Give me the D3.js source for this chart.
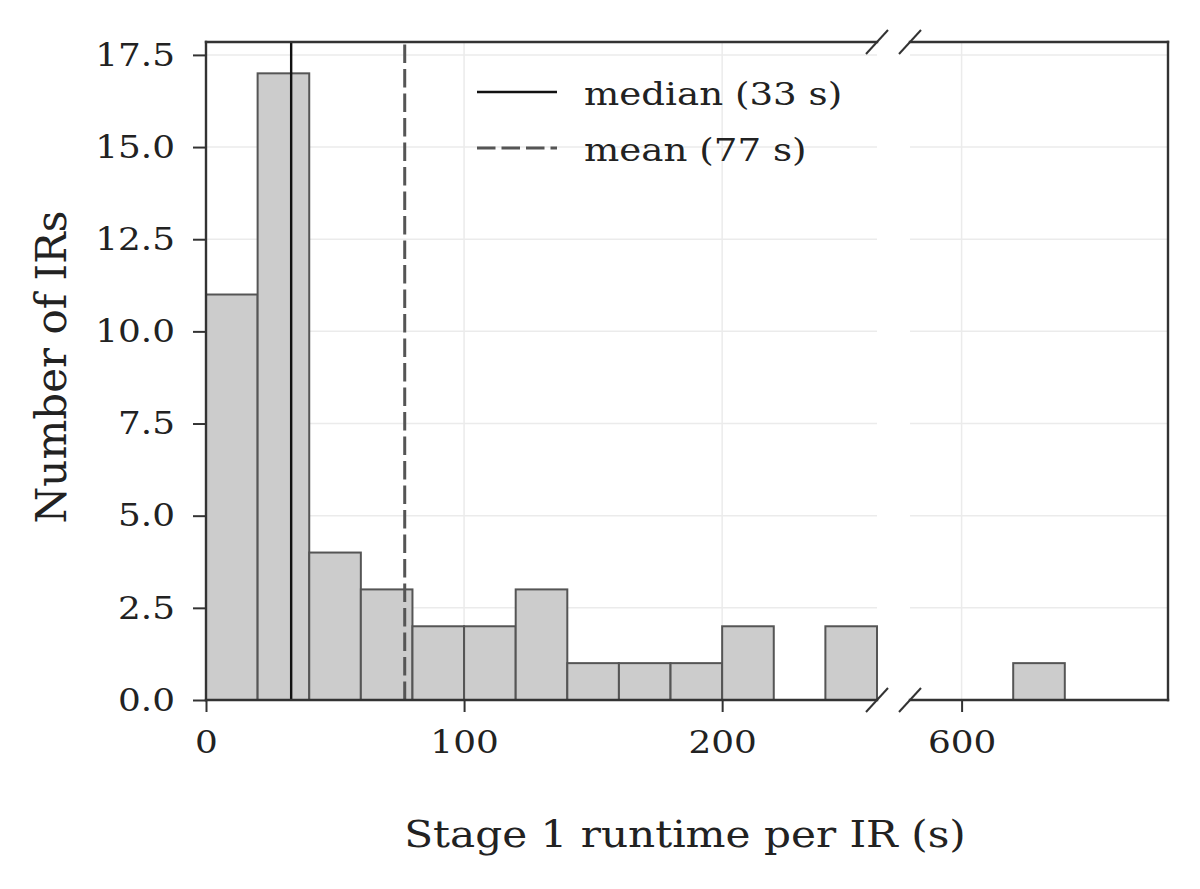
<!DOCTYPE html>
<html>
<head>
<meta charset="utf-8">
<script src="https://cdn.jsdelivr.net/npm/d3@7"></script>
<style>
  body { margin: 0; background: #fff; }
  text { font-family: "DejaVu Serif", serif; fill: #222; }
</style>
</head>
<body>
<div id="chart"></div>
<script>
// histogram data (bins of 20 s)
const binWidth = 20
const leftBinStarts = [0, 20, 40, 60, 80, 100, 120, 140, 160, 180, 200, 220, 240]
const leftCounts = [11, 17, 4, 3, 2, 2, 3, 1, 1, 1, 2, 0, 2]
const rightBinStarts = [580, 600, 620, 640, 660]
const rightCounts = [0, 0, 1, 0, 0]

const yTicks = [0, 2.5, 5, 7.5, 10, 12.5, 15, 17.5]
const leftXTicks = [0, 100, 200]
const rightXTicks = [600]

const medianValue = 33
const meanValue = 77
const legendLabels = ['median (33 s)', 'mean (77 s)']

const width = 1200
const height = 889

// the glyphs in the picture are a bit wider than DejaVu Serif
const stretch = 1.12

const svg = d3.select('#chart').append('svg')
   .attr('width', width)
   .attr('height', height)

// scales: two x panels sharing one y
let yScale = d3.scaleLinear().domain([0, 17.85]).range([700, 42])
let xLeft = d3.scaleLinear().domain([0, 260]).range([206, 877])
let xRight = d3.scaleLinear().domain([580, 680]).range([910, 1168])

const gridColor = '#ebebeb'
const spineColor = '#333'
const meanColor = '#555'
const meanDash = '18.5,6'

// grid lines
function drawGrid(xs, ticks) {
   let g = svg.append('g')
   g.selectAll('.hgrid').data(yTicks).enter().append('line')
      .attr('x1', xs.range()[0]).attr('x2', xs.range()[1])
      .attr('y1', d => yScale(d)).attr('y2', d => yScale(d))
      .attr('stroke', gridColor).attr('stroke-width', 1.5)
   g.selectAll('.vgrid').data(ticks).enter().append('line')
      .attr('x1', d => xs(d)).attr('x2', d => xs(d))
      .attr('y1', yScale.range()[0]).attr('y2', yScale.range()[1])
      .attr('stroke', gridColor).attr('stroke-width', 1.5)
}
drawGrid(xLeft, leftXTicks)
drawGrid(xRight, rightXTicks)

// bars
function drawBars(xs, starts, counts) {
   svg.append('g').selectAll('rect')
         .data(starts.map((s, i) => ({ start: s, count: counts[i] })))
      .enter().append('rect')
         .attr('x', d => xs(d.start))
         .attr('width', d => xs(d.start + binWidth) - xs(d.start))
         .attr('y', d => yScale(d.count))
         .attr('height', d => yScale(0) - yScale(d.count))
         .attr('fill', '#cccccc')
         .attr('stroke', '#555')
         .attr('stroke-width', 2)
}
drawBars(xLeft, leftBinStarts, leftCounts)
drawBars(xRight, rightBinStarts, rightCounts)

// median and mean lines (drawn bottom to top)
svg.append('line')
   .attr('x1', xLeft(medianValue)).attr('x2', xLeft(medianValue))
   .attr('y1', yScale.range()[0]).attr('y2', yScale.range()[1])
   .attr('stroke', '#111').attr('stroke-width', 2.4)
svg.append('line')
   .attr('x1', xLeft(meanValue)).attr('x2', xLeft(meanValue))
   .attr('y1', yScale.range()[0]).attr('y2', yScale.range()[1])
   .attr('stroke', meanColor).attr('stroke-width', 3)
   .attr('stroke-dasharray', meanDash)

// axes
function styleAxis(g) {
   g.select('.domain').remove()
   g.selectAll('line').attr('stroke', spineColor).attr('stroke-width', 2)
   g.selectAll('text')
      .style('font-size', '32px')
      .style('font-family', '"DejaVu Serif", serif')
      .attr('fill', '#222')
}

let yAxis = svg.append('g')
   .attr('transform', 'translate(' + xLeft.range()[0] + ',0)')
   .call(d3.axisLeft(yScale).tickValues(yTicks).tickFormat(d3.format('.1f')).tickSize(13))
   .call(styleAxis)
yAxis.selectAll('text')
   .attr('x', -31 / stretch)
   .attr('transform', 'scale(' + stretch + ',1)')

function xAxis(xs, ticks) {
   let g = svg.append('g')
      .attr('transform', 'translate(0,' + yScale.range()[0] + ')')
      .call(d3.axisBottom(xs).tickValues(ticks).tickSize(12))
      .call(styleAxis)
   g.selectAll('text')
      .attr('y', 30)
      .attr('transform', 'scale(' + stretch + ',1)')
}
xAxis(xLeft, leftXTicks)
xAxis(xRight, rightXTicks)

// spines
function spine(x1, y1, x2, y2) {
   svg.append('line')
      .attr('x1', x1).attr('y1', y1).attr('x2', x2).attr('y2', y2)
      .attr('stroke', spineColor).attr('stroke-width', 2.4)
      .attr('stroke-linecap', 'square')
}
let yTop = yScale.range()[1]
let yBot = yScale.range()[0]
spine(xLeft.range()[0], yTop, xLeft.range()[0], yBot)
spine(xLeft.range()[0], yTop, xLeft.range()[1], yTop)
spine(xLeft.range()[0], yBot, xLeft.range()[1], yBot)
spine(xRight.range()[0], yTop, xRight.range()[1], yTop)
spine(xRight.range()[0], yBot, xRight.range()[1], yBot)
spine(xRight.range()[1], yTop, xRight.range()[1], yBot)

// break marks
;[xLeft.range()[1], xRight.range()[0]].forEach(x => {
   ;[yTop, yBot].forEach(y => {
      svg.append('line')
         .attr('x1', x - 11).attr('y1', y + 12)
         .attr('x2', x + 11).attr('y2', y - 12)
         .attr('stroke', spineColor).attr('stroke-width', 2)
   })
})

// legend
let legend = svg.append('g').attr('transform', 'translate(477,92)')
legendLabels.forEach((label, i) => {
   let row = legend.append('g').attr('transform', 'translate(0,' + i * 56 + ')')
   row.append('line')
      .attr('x1', 0).attr('x2', 80)
      .attr('stroke', i === 0 ? '#111' : meanColor)
      .attr('stroke-width', i === 0 ? 2.6 : 3)
      .attr('stroke-dasharray', i === 0 ? null : meanDash)
   row.append('text')
      .attr('transform', 'translate(107,13) scale(1.2,1)')
      .style('font-size', '31px')
      .text(label)
})

// axis labels
svg.append('text')
   .attr('transform', 'translate(685,847) scale(1.11,1)')
   .attr('text-anchor', 'middle')
   .style('font-size', '38px')
   .text('Stage 1 runtime per IR (s)')

svg.append('text')
   .attr('transform', 'translate(66,367) rotate(-90)')
   .attr('text-anchor', 'middle')
   .style('font-size', '42px')
   .text('Number of IRs')
</script>
</body>
</html>
